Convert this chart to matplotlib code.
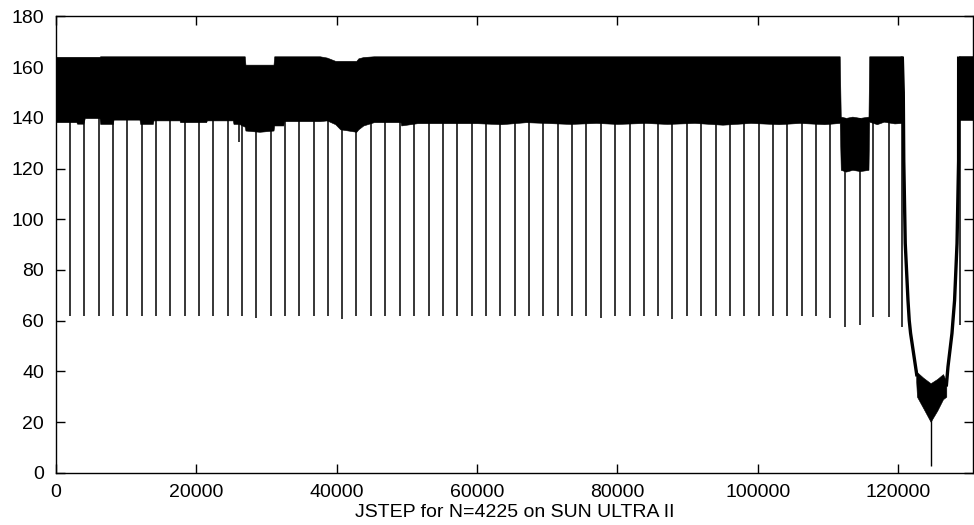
import matplotlib
matplotlib.use("Agg")
import matplotlib.pyplot as plt

# main dense band: (x, upper envelope, lower envelope)
band_x  = [0, 2900, 3000, 3900, 4100, 6200, 6300, 8100, 8200, 11900,
           12000, 13800, 13900, 17600, 17700, 21400, 21500, 25200, 25300, 26100,
           26900, 27000, 29000, 31000, 31100, 32400, 32500, 37600, 38600, 39800,
           40500, 42800, 43100, 43800, 45300, 49100, 49200, 51500, 55000, 60000,
           63500, 67000, 73300, 77000, 80000, 84000, 87100, 91000, 95000, 99000,
           103000, 106000, 109500, 111700, 111850, 112600, 113500, 114600, 115800, 115900,
           117000, 118000, 119500, 120600]
band_hi = [164.1, 164.1, 164.1, 164.1, 164.1, 164.1, 164.3, 164.3, 164.3, 164.3,
           164.3, 164.3, 164.3, 164.3, 164.3, 164.3, 164.3, 164.3, 164.3, 164.3,
           164.3, 161.0, 161.0, 161.0, 164.3, 164.3, 164.3, 164.3, 163.8, 162.5,
           162.5, 162.5, 163.5, 164.0, 164.3, 164.3, 164.3, 164.3, 164.3, 164.3,
           164.3, 164.3, 164.3, 164.3, 164.3, 164.3, 164.3, 164.3, 164.3, 164.3,
           164.3, 164.3, 164.3, 164.3, 140.5, 140.0, 140.5, 140.0, 140.5, 164.3,
           164.3, 164.3, 164.3, 164.3]
band_lo = [138.3, 138.3, 137.7, 137.7, 139.9, 139.9, 137.6, 137.6, 139.3, 139.3,
           137.6, 137.6, 139.0, 139.0, 138.3, 138.3, 139.0, 139.0, 137.6, 137.6,
           136.5, 135.0, 134.5, 135.0, 137.0, 137.0, 138.7, 138.7, 139.0, 137.5,
           135.5, 134.5, 135.5, 137.0, 138.3, 138.3, 137.0, 137.9, 137.9, 137.9,
           137.5, 138.3, 137.6, 138.0, 137.6, 138.0, 137.6, 138.0, 137.3, 138.0,
           137.5, 138.0, 137.5, 138.0, 119.5, 118.8, 119.5, 119.0, 119.5, 138.5,
           137.5, 138.5, 137.8, 138.0]

# last block after the dip
tail_x  = [128650, 130700]
tail_hi = [164.3, 164.3]
tail_lo = [139.0, 139.0]

# the U-shaped dip near x=125000
left_x  = [120620, 120760, 120830, 121040, 121430, 121610, 121800, 122510, 122710]
left_y  = [164.2, 150, 123, 90.5, 68, 60, 55, 41.8, 38]
right_x = [126890, 127130, 127700, 127840, 128070, 128420, 128640, 128650]
right_y = [34, 41.8, 55, 60, 68, 90.5, 123, 164.2]
dip_x   = [122600, 122710, 123600, 124650, 125600, 126420, 126890]
dip_hi  = [41.0, 39.7, 37.5, 35.3, 37.0, 38.9, 36.0]
dip_lo  = [36.0, 30.0, 25.5, 20.1, 24.5, 29.0, 30.0]
deep_x, deep_y = 124650, 2.6

# periodic spikes down from the band
spike_x = [1996, 3992, 6088, 8127, 10165, 12219, 14257, 16296, 18349, 20388,
           22427, 24480, 26518, 28557, 30610, 32649, 34688, 36741, 38708, 40775,
           42814, 44910, 46949, 49002, 51084, 53137, 55175, 57214, 59267, 61306,
           63345, 65398, 67437, 69476, 71529, 73567, 75606, 77702, 79741, 81794,
           83790, 85786, 87824, 89920, 91959, 93998, 96051, 98089, 100128, 102181,
           104220, 106259, 108312, 110351, 112489, 114528, 116438, 118663, 120573,
           128785, 26130]
spike_lo = [62, 62, 62, 62, 61.8, 62, 62, 61.8, 62, 62,
            62, 62, 62, 60.9, 62, 61.8, 62, 62, 61.8, 60.5,
            61.8, 62, 61.8, 61.8, 62, 61.8, 62, 61.8, 62, 61.8,
            62, 62, 61.8, 61.8, 62, 62, 61.8, 60.9, 62, 62,
            62, 62, 60.5, 62, 61.8, 62, 62, 61.8, 62, 62,
            62, 61.8, 62, 60.9, 57.6, 58.3, 61.5, 61.5, 57.6,
            58.3, 130.6]

plt.rcParams["font.family"] = ["Liberation Sans", "DejaVu Sans"]

fig = plt.figure(figsize=(9.74, 5.25), dpi=100)
ax = fig.add_axes([0.0575, 0.0996, 0.9415, 0.869])

ax.fill_between(band_x, band_lo, band_hi, color="black", linewidth=0.4, edgecolor="black")
ax.fill_between(tail_x, tail_lo, tail_hi, color="black", linewidth=0.4, edgecolor="black")
ax.fill_between(dip_x, dip_lo, dip_hi, color="black", linewidth=0.4, edgecolor="black")
ax.plot(left_x, left_y, color="black", linewidth=2.4, solid_capstyle="butt")
ax.plot(right_x, right_y, color="black", linewidth=2.4, solid_capstyle="butt")
ax.vlines(spike_x, spike_lo, 140, color="black", linewidth=1.1)
ax.vlines([deep_x], [deep_y], [22], color="black", linewidth=1.0)

ax.set_xlim(0, 130700)
ax.set_ylim(0, 180)
ax.set_xticks(range(0, 130000, 20000))
ax.set_yticks(range(0, 181, 20))
ax.tick_params(direction="in", length=6.5, width=1, top=True, right=True,
               labelsize=14, colors="black")
ax.tick_params(axis="x", pad=8)
ax.tick_params(axis="y", pad=8.5)
for s in ax.spines.values():
    s.set_linewidth(1.0)
ax.set_xlabel("JSTEP for N=4225 on SUN ULTRA II", fontsize=14, labelpad=2)

fig.savefig("out.png", dpi=100)
